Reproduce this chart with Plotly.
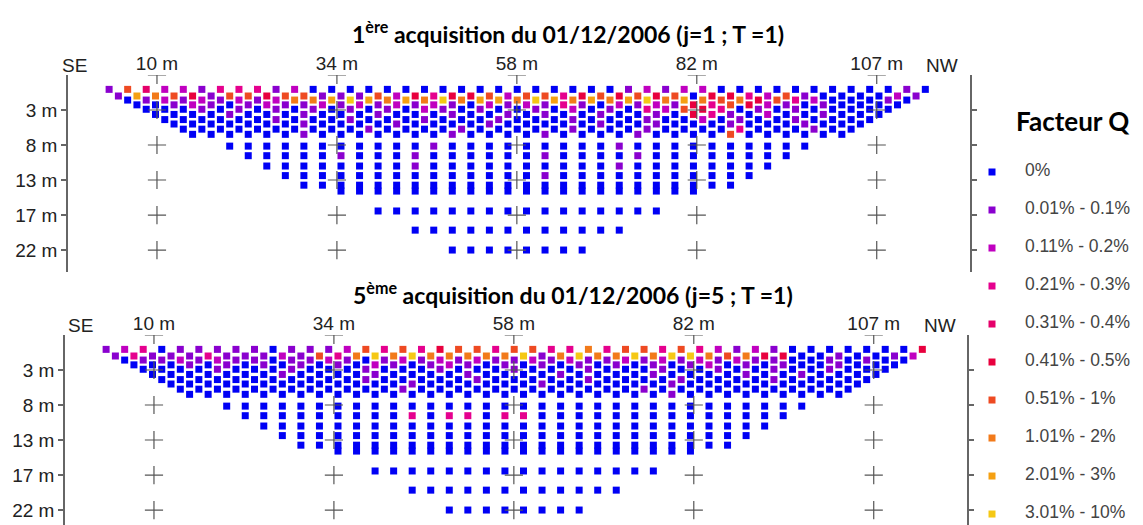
import plotly.graph_objects as go

# the page body keeps an 8 px margin, so the figure is sized to fit the 1143x525 window
OFF = 8
FW, FH = 1143 - OFF, 525 - OFF

# ---------------- data ----------------
# pseudo-section geometry (metres): one entry per measurement row
ROW_DEPTH = [0.2, 1.1, 1.65, 2.3, 2.9, 3.6, 4.3, 4.9, 5.6, 6.3,
             7.9, 9.2, 10.6, 11.9, 13.2, 14.0, 16.7, 19.3, 22.0]
ROW_START = [3.55, 4.8, 6.05, 7.3, 8.55, 9.8, 11.05, 12.3, 13.55, 14.8,
             19.8, 22.3, 24.8, 27.3, 29.8, 34.8, 39.8, 44.8, 49.8]
ROW_COUNT = [45, 44, 43, 42, 41, 40, 39, 38, 37, 36,
             32, 30, 28, 26, 24, 20, 16, 12, 8]
STEP = 2.5

Q_CLASSES = ["0%", "0.01% - 0.1%", "0.11% - 0.2%", "0.21% - 0.3%", "0.31% - 0.4%",
             "0.41% - 0.5%", "0.51% - 1%", "1.01% - 2%", "2.01% - 3%", "3.01% - 10%"]
Q_COLORS = ["#0000F5", "#8A00CF", "#C000C0", "#E5008E", "#E5006A",
            "#E8003E", "#EE4A22", "#F27A1A", "#F5A012", "#F5C814"]

# Q-factor class of every point, row by row (digit = index in Q_CLASSES)
TOP_CODES = [
    "1642213331" "2000000000" "0000000012" "1220000000" "00010",
    "1876516656" "6111625355" "6266356565" "6055326100" "0021",
    "0121212127" "7898787978" "8798787897" "8767563200" "010",
    "0012101211" "2121212102" "1213102121" "5365210100" "00",
    "0001010101" "0101021010" "0102010326" "5301010000" "0",
    "0000100010" "0010001001" "0100100105" "3102001000",
    "0000001000" "1000100010" "0010001002" "010010000",
    "0000000100" "0010000100" "0001001000" "10001000",
    "0000000000" "1000010000" "0100010000" "3000100",
    "0000001000" "0000100001" "0000100006" "000000",
    "0000000000" "0100000000" "0100000000" "00",
    "0000010001" "0000001000" "0100000000",
    "0000000010" "0000000001" "00000000",
    "0000000000" "0000100000" "000000",
    "0000000000" "0000000000" "0000",
    "0000000000" "0000000000",
    "0000000000" "000000",
    "0000000000" "00",
    "00000000",
]
BOTTOM_CODES = [
    "1230111110" "1112636356" "6366337366" "3632121000" "00005",
    "1311131112" "1637979777" "7791797797" "9976755001" "0012",
    "0112121101" "1210121212" "1121211212" "1212110010" "100",
    "0001010101" "0102101210" "1010101010" "1201010010" "00",
    "0000100010" "0010001000" "1000100010" "0100100100" "0",
    "0000000100" "0010000100" "0010000100" "0010010000",
    "0000000000" "0100000100" "0001000010" "000100000",
    "0000000000" "0001000000" "1000000100" "00000000",
    "0000000000" "0010000000" "0000010000" "0000000",
    "0000000000" "0000000000" "0000001000" "000000",
    "0000000000" "0000000000" "0000000000" "00",
    "0000000003" "0330330000" "0000000000",
    "0000000000" "0000000000" "00000000",
    "0000000000" "0000000000" "000000",
    "0000000000" "0000000000" "0000",
    "0000000000" "0000000000",
    "0000000000" "000000",
    "0000000000" "00",
    "00000000",
]

X_TICKVALS = [10, 34.25, 58.5, 82.75, 107]
X_TICKTEXT = ["10 m", "34 m", "58 m", "82 m", "107 m"]
Y_TICKVALS = [3, 7.75, 12.5, 17.25, 22]
Y_TICKTEXT = ["3 m", "8 m", "13 m", "17 m", "22 m"]

TITLES = ["1<sup>ère</sup> acquisition du 01/12/2006 (j=1 ; T =1)",
          "5<sup>ème</sup> acquisition du 01/12/2006 (j=5 ; T =1)"]
LEGEND_TITLE = "Facteur Q"

# ---------------- layout constants ----------------
X_RANGE = [-1.99, 119.57]
Y_TOP = -1.75
TOP_Y_RANGE = [24.98, Y_TOP]
BOT_Y_RANGE = [24.03, Y_TOP]


def px(x):
    """window pixel -> paper fraction"""
    return (x - OFF) / FW


def py(y):
    return 1 - (y - OFF) / FH


fig = go.Figure()


def add_panel(codes, xa, ya):
    xs = [[] for _ in Q_CLASSES]
    ys = [[] for _ in Q_CLASSES]
    for depth, start, count, code in zip(ROW_DEPTH, ROW_START, ROW_COUNT, codes):
        assert len(code) == count, (count, len(code), code)
        for i, ch in enumerate(code):
            k = int(ch)
            xs[k].append(start + i * STEP)
            ys[k].append(depth)
    for k, name in enumerate(Q_CLASSES):
        fig.add_trace(go.Scatter(
            x=xs[k], y=ys[k], mode="markers", name=name, showlegend=False,
            marker=dict(symbol="square", size=7, color=Q_COLORS[k],
                        line=dict(width=0)),
            xaxis=xa, yaxis=ya, hoverinfo="skip"))
    # reference crosses at every tick intersection (top edge row gives the "T" marks)
    cx, cy = [], []
    for yv in [Y_TOP] + Y_TICKVALS:
        for xv in X_TICKVALS:
            cx.append(xv)
            cy.append(yv)
    fig.add_trace(go.Scatter(
        x=cx, y=cy, mode="markers", showlegend=False, hoverinfo="skip",
        marker=dict(symbol="cross-thin", size=13, line=dict(width=1.2, color="#555555")),
        xaxis=xa, yaxis=ya))


add_panel(TOP_CODES, "x", "y")
add_panel(BOTTOM_CODES, "x2", "y2")

# legend (drawn on its own hidden axis so that it keeps the reference spacing)
idx = list(range(len(Q_CLASSES)))
fig.add_trace(go.Scatter(
    x=[17] * len(idx), y=idx, mode="markers", showlegend=False, hoverinfo="skip",
    marker=dict(symbol="square", size=7, color=Q_COLORS, line=dict(width=0)),
    xaxis="x3", yaxis="y3"))
fig.add_trace(go.Scatter(
    x=[50] * len(idx), y=idx, mode="text", text=Q_CLASSES, textposition="middle right",
    showlegend=False, hoverinfo="skip",
    textfont=dict(family="Liberation Sans, Arial, sans-serif", size=17.5, color="#444444"),
    xaxis="x3", yaxis="y3", cliponaxis=False))

tick_font = dict(family="Liberation Sans, Arial, sans-serif", size=19, color="#222222")

xcommon = dict(range=X_RANGE, side="top", showgrid=False, zeroline=False, showline=False,
               tickvals=X_TICKVALS, ticktext=X_TICKTEXT, ticks="", tickfont=tick_font,
               ticklabelstandoff=0, automargin=False)
ycommon = dict(showgrid=False, zeroline=False, showline=True, mirror="ticks",
               linecolor="#666666", linewidth=1.5, ticks="outside", ticklen=5,
               tickcolor="#666666", tickwidth=1.5, automargin=False,
               tickvals=Y_TICKVALS, ticktext=Y_TICKTEXT, tickfont=tick_font)
hidden = dict(visible=False, showgrid=False, zeroline=False, fixedrange=True)

fig.update_layout(
    width=FW, height=FH,
    margin=dict(l=0, r=0, t=0, b=0),
    paper_bgcolor="white", plot_bgcolor="rgba(0,0,0,0)",
    showlegend=False,
    xaxis=dict(domain=[px(68), px(970)], anchor="y", **xcommon),
    yaxis=dict(domain=[py(272), py(75)], range=TOP_Y_RANGE, anchor="x", **ycommon),
    xaxis2=dict(domain=[px(65), px(967)], anchor="y2", **xcommon),
    yaxis2=dict(domain=[0, py(335)], range=BOT_Y_RANGE, anchor="x2", **ycommon),
    xaxis3=dict(domain=[px(975), 1], range=[0, 168], anchor="y3", **hidden),
    yaxis3=dict(domain=[0, py(150)], range=[9.289, -0.579], anchor="x3", **hidden),
)

ann_font = dict(family="Liberation Sans, Arial, sans-serif", size=19, color="#222222")
title_font = dict(family="Lato, Carlito, sans-serif", size=23, color="#000000")
annotations = [
    dict(text="<b>" + TITLES[0] + "</b>", x=px(568), y=py(33), font=title_font),
    dict(text="<b>" + TITLES[1] + "</b>", x=px(573), y=py(293), font=title_font),
    dict(text="SE", x=px(74), y=py(65), font=ann_font),
    dict(text="NW", x=px(942), y=py(65), font=ann_font),
    dict(text="SE", x=px(80), y=py(325), font=ann_font),
    dict(text="NW", x=px(940), y=py(325), font=ann_font),
    dict(text="<b>" + LEGEND_TITLE + "</b>", x=px(1014), y=py(121), xanchor="left",
         font=dict(family="Lato, Carlito, sans-serif", size=26, color="#000000")),
]
for a in annotations:
    a.setdefault("xanchor", "center")
    a.update(xref="paper", yref="paper", yanchor="middle", showarrow=False)
fig.update_layout(annotations=annotations)

fig.write_html("out.html")
